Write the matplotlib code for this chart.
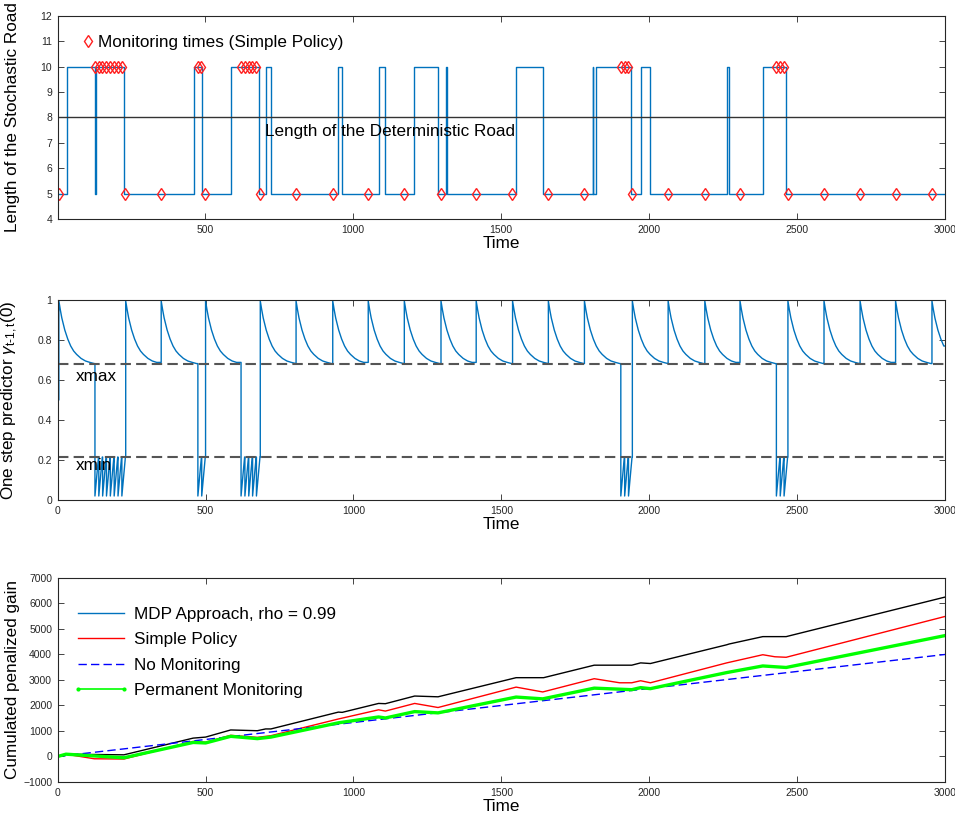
import numpy as np
import matplotlib.pyplot as plt
from matplotlib.lines import Line2D

plt.rcParams['font.family'] = ['Liberation Sans', 'DejaVu Sans']
plt.rcParams['mathtext.fontset'] = 'custom'
plt.rcParams['mathtext.rm'] = 'Liberation Sans'
plt.rcParams['mathtext.it'] = 'Liberation Sans:italic'

# --- stochastic road length (step changes) ---
road_times = [0, 33, 128, 129, 226, 463, 490, 588, 680, 705, 723, 948, 962,
              1086, 1108, 1207, 1286, 1314, 1316, 1549, 1640, 1810, 1812,
              1820, 1938, 1971, 2004, 2262, 2270, 2384, 2463, 3000]
road_levels = [5, 10, 5, 10, 5, 10, 5, 10, 5, 10, 5, 10, 5,
               10, 5, 10, 5, 10, 5, 10, 5, 10, 5,
               10, 5, 10, 5, 10, 5, 10, 5, 5]
deterministic_length = 8

# monitoring instants of the simple policy, split by observed road state
monitor_short = [4, 230, 350, 500, 685, 806, 930, 1050, 1172, 1296, 1415,
                 1538, 1659, 1781, 1943, 2064, 2188, 2307, 2469, 2591, 2713,
                 2833, 2956]
monitor_long = [126, 139, 152, 165, 178, 191, 204, 217,
                474, 487,
                620, 633, 646, 659, 672,
                1904, 1917, 1930,
                2430, 2443, 2456]

# predictor after an observation: decay after "short", rise after "long"
decay_offsets = [0, 5, 10, 20, 30, 40, 50, 60, 75, 90, 105, 120]
decay_values = [0.995, 0.95, 0.91, 0.85, 0.805, 0.77, 0.745, 0.728, 0.708,
                0.695, 0.688, 0.682]
rise_offsets = [0, 12]
rise_values = [0.02, 0.215]
gamma_start = 0.5
xmax = 0.68
xmin = 0.215

# --- cumulated penalized gain, breakpoints (time, value) ---
mdp_t = [0, 28, 224, 458, 500, 585, 675, 703, 721, 949, 962, 1085, 1108,
         1207, 1286, 1550, 1643, 1814, 1941, 1971, 2004, 2262, 2270, 2384,
         2463, 3000]
mdp_v = [0, 90, 65, 720, 760, 1040, 1010, 1080, 1080, 1740, 1730, 2080,
         2070, 2370, 2340, 3090, 3090, 3580, 3580, 3670, 3645, 4380, 4410,
         4700, 4700, 6250]
simple_t = [0, 28, 124, 224, 458, 500, 585, 675, 721, 949, 1085, 1108,
            1207, 1286, 1550, 1640, 1814, 1900, 1941, 1971, 2004, 2262,
            2384, 2425, 2463, 3000]
simple_v = [0, 90, -90, -100, 590, 560, 830, 750, 815, 1470, 1830, 1780,
            2080, 1920, 2720, 2530, 3050, 2890, 2890, 2970, 2890, 3670,
            3990, 3910, 3890, 5490]
nomon_t = [0, 3000]
nomon_v = [0, 4000]
perm_t = [0, 28, 224, 458, 500, 585, 675, 721, 949, 1085, 1108, 1207,
          1286, 1550, 1640, 1814, 1941, 1971, 2004, 2262, 2384, 2463, 3000]
perm_v = [0, 90, -50, 550, 530, 790, 700, 760, 1320, 1550, 1510, 1760,
          1710, 2330, 2260, 2680, 2620, 2700, 2660, 3290, 3550, 3490, 4740]

mblue = '#0072BD'
axis_col = '#262626'


def style(ax):
    ax.tick_params(direction='in', top=True, right=True, labelsize=7.5,
                   length=4, width=0.6, colors=axis_col, pad=4)
    for s in ax.spines.values():
        s.set_linewidth(0.8)
        s.set_color(axis_col)


def predictor_path():
    events = sorted([(t, 'short') for t in monitor_short] +
                    [(t, 'long') for t in monitor_long])
    xs, ys = [0], [gamma_start]
    for i, (t, kind) in enumerate(events):
        t_next = events[i + 1][0] if i + 1 < len(events) else 3000
        offs, vals = ((decay_offsets, decay_values) if kind == 'short'
                      else (rise_offsets, rise_values))
        xs.append(t)
        ys.append(ys[-1])
        last = vals[0]
        for o, v in zip(offs, vals):
            if t + o < t_next:
                xs.append(t + o)
                ys.append(v)
                last = v
        xs.append(t_next)
        ys.append(last)
    return xs, ys


fig = plt.figure(figsize=(9.55, 8.19), dpi=100)
ax1 = fig.add_axes([0.0604, 0.7326, 0.9291, 0.2479])
ax2 = fig.add_axes([0.0604, 0.3895, 0.9291, 0.2442])
ax3 = fig.add_axes([0.0604, 0.0452, 0.9291, 0.2491])

# top: road length and monitoring times
ax1.step(road_times, road_levels, where='post', color=mblue, lw=1)
ax1.axhline(deterministic_length, color='#333333', lw=1)
mon_t = monitor_short + monitor_long
mon_y = [5] * len(monitor_short) + [10] * len(monitor_long)
ax1.plot(mon_t, mon_y, 'd', mfc='none', mec='#FF2020', ms=6, mew=1.0,
         label='Monitoring times (Simple Policy)')
ax1.text(703, 7.45, 'Length of the Deterministic Road', fontsize=12.3,
         va='center', ha='left')
ax1.set_xlim(1, 3000)
ax1.set_ylim(4, 12)
ax1.set_xticks([500, 1000, 1500, 2000, 2500, 3000])
ax1.set_yticks(range(4, 13))
ax1.set_xlabel('Time', fontsize=12.3, labelpad=1)
ax1.set_ylabel('Length of the Stochastic Road', fontsize=12.3)
ax1.legend(loc='upper left', bbox_to_anchor=(0.015, 0.965), frameon=False,
           fontsize=12.3, handlelength=0.6, handletextpad=0.3, borderaxespad=0.3)
style(ax1)

# middle: one step predictor with thresholds
gx, gy = predictor_path()
ax2.plot(gx, gy, color=mblue, lw=1)
ax2.axhline(xmax, color='#555555', lw=1.5, ls=(0, (5, 2.5)))
ax2.axhline(xmin, color='#555555', lw=1.5, ls=(0, (5, 2.5)))
ax2.text(61, 0.615, 'xmax', fontsize=12.3, va='center')
ax2.text(61, 0.17, 'xmin', fontsize=12.3, va='center')
ax2.set_xlim(0, 3000)
ax2.set_ylim(0, 1)
ax2.set_xticks(range(0, 3001, 500))
ax2.set_yticks([0, 0.2, 0.4, 0.6, 0.8, 1])
ax2.set_yticklabels(['0', '0.2', '0.4', '0.6', '0.8', '1'])
ax2.set_xlabel('Time', fontsize=12.3, labelpad=1)
ax2.set_ylabel(r'One step predictor $\gamma_{\rm t\text{-}1,t}$(0)', fontsize=12.3)
style(ax2)

# bottom: cumulated penalized gain
ax3.plot(mdp_t, mdp_v, color='black', lw=1)
ax3.plot(simple_t, simple_v, color='#FF0000', lw=1)
ax3.plot(nomon_t, nomon_v, color='#0000FF', lw=1, ls=(0, (6, 3)))
ax3.plot(perm_t, perm_v, color='#00FF00', lw=2.4)
handles = [
    Line2D([], [], color=mblue, lw=1),
    Line2D([], [], color='#FF0000', lw=1),
    Line2D([], [], color='#0000FF', lw=1, ls=(0, (6, 3))),
    Line2D([], [], color='#00FF00', lw=1.2, marker='.', ms=4),
]
labels = ['MDP Approach, rho = 0.99', 'Simple Policy', 'No Monitoring',
          'Permanent Monitoring']
ax3.legend(handles, labels, loc='upper left', bbox_to_anchor=(0.0, 0.935),
           frameon=False, fontsize=12.3, handlelength=3.3, handletextpad=0.25,
           labelspacing=0.62, numpoints=2)
ax3.set_xlim(0, 3000)
ax3.set_ylim(-1000, 7000)
ax3.set_xticks(range(0, 3001, 500))
ax3.set_yticks(range(-1000, 7001, 1000))
ax3.set_xlabel('Time', fontsize=12.3, labelpad=1)
ax3.set_ylabel('Cumulated penalized gain', fontsize=12.3)
style(ax3)

for ax in (ax1, ax2, ax3):
    ax.yaxis.set_label_coords(-0.043, 0.5)

fig.savefig('out.png', dpi=100)
